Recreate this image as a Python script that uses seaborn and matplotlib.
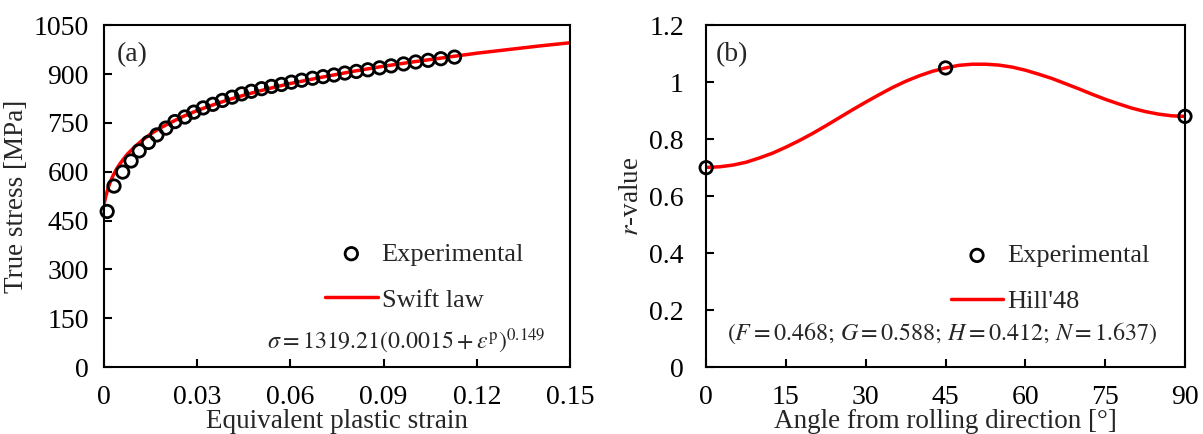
import numpy as np
import pandas as pd
import seaborn as sns
import matplotlib.pyplot as plt

# (a) experimental flow curve
exp_strain = [0.0010, 0.0032, 0.0060, 0.0087, 0.0113, 0.0143, 0.0170, 0.0199, 0.0228,
              0.0260, 0.0289, 0.0319, 0.0350, 0.0381, 0.0412, 0.0443, 0.0474, 0.0507,
              0.0539, 0.0571, 0.0603, 0.0636, 0.0671, 0.0705, 0.0740, 0.0775, 0.0812,
              0.0849, 0.0887, 0.0924, 0.0964, 0.1003, 0.1043, 0.1084, 0.1128]
exp_stress = [478, 556, 599, 633, 664, 690, 713, 734, 754,
              768, 783, 796, 807, 819, 829, 839, 847, 855,
              862, 868, 875, 881, 887, 892, 897, 903, 908,
              913, 919, 925, 931, 937, 942, 947, 952]

# Swift law curve
swift_strain = [0.0, 0.0005, 0.001, 0.0015, 0.002, 0.0025, 0.003, 0.004, 0.005, 0.0065,
                0.0075, 0.01, 0.0125, 0.015, 0.0175, 0.02, 0.025, 0.03, 0.035, 0.04,
                0.045, 0.05, 0.055, 0.06, 0.07, 0.08, 0.09, 0.10, 0.11, 0.12,
                0.13, 0.14, 0.15]
swift_stress = [501, 522, 540, 555, 568, 580, 590, 608, 623, 642,
                654, 678, 698, 716, 731, 744, 768, 788, 805, 821,
                835, 848, 860, 871, 890, 908, 924, 938, 951, 964,
                975, 986, 996]

# (b) r-values
exp_angle = [0, 45, 90]
exp_r = [0.70, 1.05, 0.88]

hill_angle = [0, 2.5, 5, 7.5, 10, 12.5, 15, 17.5, 20, 22.5, 25, 27.5, 30, 32.5, 35,
              37.5, 40, 42.5, 45, 47.5, 50, 52.5, 55, 57.5, 60, 62.5, 65, 67.5, 70,
              72.5, 75, 77.5, 80, 82.5, 85, 87.5, 90]
hill_r = [0.701, 0.703, 0.709, 0.719, 0.734, 0.751, 0.772, 0.795, 0.820, 0.847, 0.875,
          0.903, 0.930, 0.956, 0.981, 1.003, 1.022, 1.038, 1.050, 1.059, 1.063, 1.063,
          1.060, 1.053, 1.042, 1.028, 1.013, 0.995, 0.977, 0.958, 0.940, 0.924, 0.909,
          0.897, 0.888, 0.882, 0.880]

sns.set_theme(style="ticks")
plt.rcParams['font.family'] = ['Liberation Serif', 'DejaVu Serif']
plt.rcParams['mathtext.fontset'] = 'stix'
plt.rcParams['axes.linewidth'] = 1.5

df_exp = pd.DataFrame({"strain": exp_strain, "stress": exp_stress})
df_swift = pd.DataFrame({"strain": swift_strain, "stress": swift_stress})
df_rexp = pd.DataFrame({"angle": exp_angle, "r": exp_r})
df_hill = pd.DataFrame({"angle": hill_angle, "r": hill_r})

fig = plt.figure(figsize=(12.03, 4.34), dpi=100)
ax1 = fig.add_axes([0.0865, 0.154, 0.3874, 0.788])
ax2 = fig.add_axes([0.587, 0.154, 0.398, 0.788])

fs_tick = 20
fs_lab = 19.5
fs_leg = 19

def style_axis(ax, ypad):
    for sp in ax.spines.values():
        sp.set_visible(True)
        sp.set_color("black")
        sp.set_linewidth(1.5)
    ax.tick_params(direction="in", length=6, width=1.5, labelsize=fs_tick,
                   colors="black", top=False, right=False)
    ax.tick_params(axis="x", pad=13)
    ax.tick_params(axis="y", pad=ypad)

# panel (a)
sns.lineplot(data=df_swift, x="strain", y="stress", color="#ff0000", lw=2.5,
             ax=ax1, label="Swift law", zorder=2)
sns.scatterplot(data=df_exp, x="strain", y="stress", marker="o", s=80,
                facecolor="none", edgecolor="black", linewidth=2, ax=ax1,
                label="Experimental", zorder=3, clip_on=False)
ax1.set_xlim(0, 0.15)
ax1.set_ylim(0, 1050)
ax1.set_xticks([0, 0.03, 0.06, 0.09, 0.12, 0.15])
ax1.set_xticklabels(["0", "0.03", "0.06", "0.09", "0.12", "0.15"])
ax1.set_yticks(np.arange(0, 1051, 150))
style_axis(ax1, 11)
ax1.set_xlabel("Equivalent plastic strain", fontsize=fs_lab, labelpad=-1)
ax1.set_ylabel("True stress [MPa]", fontsize=fs_lab, labelpad=3)
ax1.text(0.028, 0.915, "(a)", transform=ax1.transAxes, fontsize=20, va="center")
ax1.text(0.350, 0.075, r"$\sigma = 1319.21(0.0015 + \varepsilon^{\mathrm{p}})^{0.149}$",
         transform=ax1.transAxes, fontsize=17.2, va="center")
h, l = ax1.get_legend_handles_labels()
ax1.legend([h[1], h[0]], [l[1], l[0]], loc="upper left", bbox_to_anchor=(0.423, 0.435),
           frameon=False, fontsize=fs_leg, handlelength=2.0, handletextpad=0.15,
           labelspacing=0.85)

# panel (b)
sns.lineplot(data=df_hill, x="angle", y="r", color="#ff0000", lw=2.5,
             ax=ax2, label="Hill'48", zorder=2)
sns.scatterplot(data=df_rexp, x="angle", y="r", marker="o", s=80,
                facecolor="none", edgecolor="black", linewidth=2, ax=ax2,
                label="Experimental", zorder=3, clip_on=False)
ax2.set_xlim(0, 90)
ax2.set_ylim(0, 1.2)
ax2.set_xticks(np.arange(0, 91, 15))
ax2.set_yticks([0, 0.2, 0.4, 0.6, 0.8, 1.0, 1.2])
ax2.set_yticklabels(["0", "0.2", "0.4", "0.6", "0.8", "1", "1.2"])
style_axis(ax2, 16)
ax2.set_xlabel("Angle from rolling direction [°]", fontsize=fs_lab, labelpad=-1)
ax2.set_ylabel(r"$r$-value", fontsize=fs_lab, labelpad=4)
ax2.text(0.02, 0.915, "(b)", transform=ax2.transAxes, fontsize=20, va="center")
ax2.text(0.044, 0.098, r"$(F = 0.468;\, G = 0.588;\, H = 0.412;\, N = 1.637)$",
         transform=ax2.transAxes, fontsize=17.3, va="center")
h, l = ax2.get_legend_handles_labels()
ax2.legend([h[1], h[0]], [l[1], l[0]], loc="upper left", bbox_to_anchor=(0.461, 0.43),
           frameon=False, fontsize=fs_leg, handlelength=2.0, handletextpad=0.15,
           labelspacing=0.85)

fig.savefig("out.png", dpi=100)
